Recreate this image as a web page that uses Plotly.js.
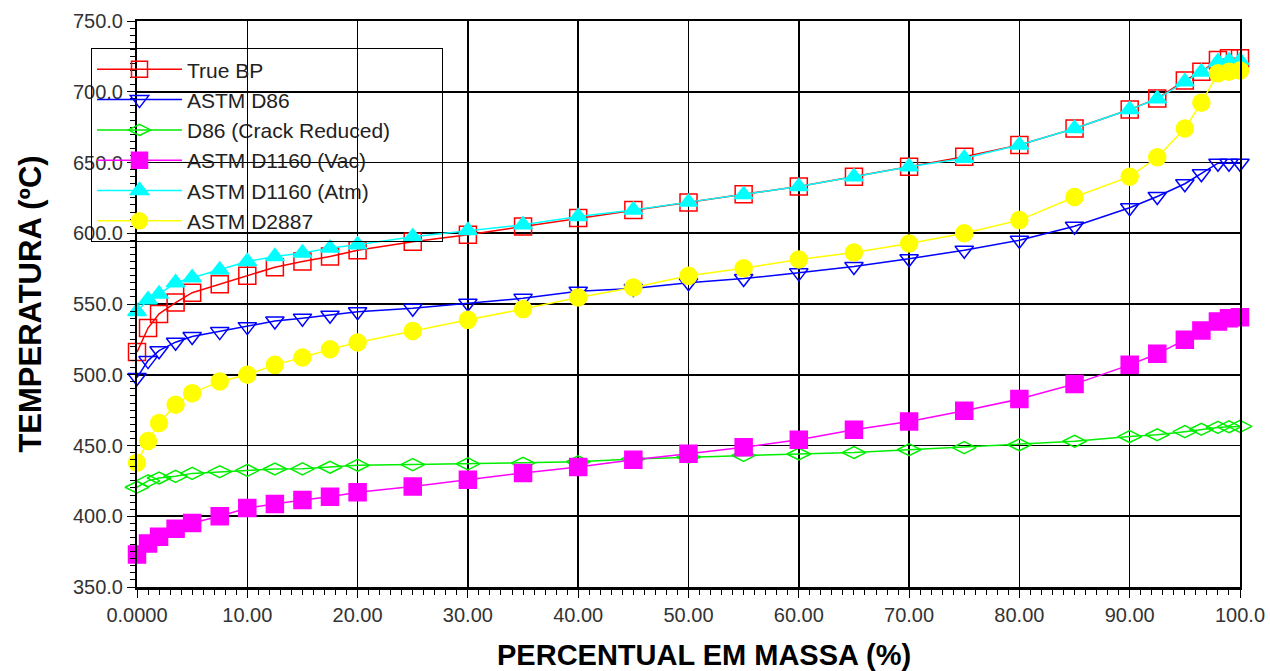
<!DOCTYPE html>
<html>
<head>
<meta charset="utf-8">
<script src="https://cdn.plot.ly/plotly-3.0.1.min.js"></script>
<style>html,body{margin:0;padding:0;background:#fff;}#chart{width:1270px;height:671px;}</style>
</head>
<body>
<div id="chart"></div>
<script>
// Percentual em massa (%)
const massPct = [0, 1, 2, 3.5, 5, 7.5, 10, 12.5, 15, 17.5, 20, 25, 30, 35, 40, 45, 50, 55, 60, 65, 70, 75, 80, 85, 90, 92.5, 95, 96.5, 98, 99, 100];

const trueBP = [516, 533, 543, 551, 558, 564, 570, 576, 580, 583.5, 588, 594, 599, 604.7, 610.7, 616.5, 621.7, 627.6, 633, 640, 647, 654, 662.4, 674, 687.4, 695.2, 708, 714.2, 722.5, 723.7, 723.7];
const astmD86 = [498, 510, 517, 523, 527, 530.5, 534, 538, 540, 542, 544.5, 547, 550.5, 554, 559, 561, 565, 568, 572, 576.5, 582, 588, 595, 605, 618, 626, 635, 642, 649.5, 649.5, 649.5];
const d86CrackReduced = [420.5, 425, 427, 428.2, 430.3, 431.5, 432.4, 433.4, 433.5, 434.6, 436, 436.5, 437, 437.5, 438.5, 440.5, 441.8, 443, 444, 445, 447, 448.5, 450.5, 453, 456.3, 457.6, 459.8, 461.5, 462.8, 463.2, 463.5];
const astmD1160Vac = [373, 380.8, 385.5, 391.2, 395.2, 400, 405.8, 408.7, 411.5, 413.8, 417, 421, 425.8, 430.6, 434.8, 440, 444.2, 448.7, 454.1, 461.2, 467, 474.6, 482.8, 493.4, 507, 514.8, 524.7, 531.3, 537.6, 540, 540.7];
const astmD1160Atm = [544.7, 553, 557, 565, 568.5, 574, 580, 583.5, 586, 589.5, 591.8, 597.5, 602, 606, 611.8, 616.5, 622, 627.3, 633, 640, 647, 653, 662.4, 674, 687.4, 695, 707, 714, 721.3, 722, 722];
const astmD2887 = [437.8, 453.2, 465.9, 478.8, 487, 495.3, 500, 507, 512.2, 518, 522.8, 531, 538.8, 546.4, 554.6, 561.7, 569.9, 575.3, 581.5, 586.4, 592.7, 600, 609.3, 625.6, 640, 653.7, 674, 692.3, 713, 714.2, 715];

const seriesNames = ["True BP", "ASTM D86", "D86 (Crack Reduced)", "ASTM D1160 (Vac)", "ASTM D1160 (Atm)", "ASTM D2887"];
const xTickVals = [0, 10, 20, 30, 40, 50, 60, 70, 80, 90, 100];
const xTickText = ["0.0000", "10.00", "20.00", "30.00", "40.00", "50.00", "60.00", "70.00", "80.00", "90.00", "100.0"];
const xTitle = "PERCENTUAL EM MASSA (%)";
const yTitle = "TEMPERATURA (ºC)";

const seriesData = [trueBP, astmD86, d86CrackReduced, astmD1160Vac, astmD1160Atm, astmD2887];
const styles = [
  {color: "#ff0000", symbol: "square-open", size: 17},
  {color: "#0000ff", symbol: "triangle-down-open", size: 16},
  {color: "#00ee00", symbol: "diamond-wide-open", size: 17},
  {color: "#ff00ff", symbol: "square", size: 17},
  {color: "#00ffff", symbol: "triangle-up", size: 16},
  {color: "#ffff00", symbol: "circle", size: 17}
];

// widen the legend box to the reference width with trailing no-break spaces on the longest entry
const legendPad = "\u00a0".repeat(8);

const traces = seriesData.map((ys, i) => ({
  x: massPct,
  y: ys,
  name: seriesNames[i] + (i === 2 ? legendPad : ""),
  type: "scatter",
  mode: "lines+markers",
  cliponaxis: false,
  legendgroup: "g" + i,
  line: {color: styles[i].color, width: 1.5},
  marker: {symbol: styles[i].symbol, size: styles[i].size, color: styles[i].color,
           line: {color: styles[i].color, width: 1.5}}
}));

const layout = {
  width: 1270, height: 671,
  margin: {l: 137, r: 30, t: 21, b: 84},
  paper_bgcolor: "#ffffff",
  plot_bgcolor: "#ffffff",
  font: {family: "Liberation Sans, Arial, sans-serif", color: "#222222", size: 20},
  showlegend: true,
  legend: {
    x: -0.0417, y: 0.952, xanchor: "left", yanchor: "top",
    bgcolor: "rgba(0,0,0,0)", bordercolor: "#000000", borderwidth: 1,
    font: {size: 21, color: "#222222"},
    tracegroupgap: 0, itemwidth: 85
  },
  xaxis: {
    range: [0, 100],
    tickvals: xTickVals, ticktext: xTickText,
    ticks: "outside", ticklen: 8, tickwidth: 1, tickcolor: "#000000",
    minor: {dtick: 1, ticks: "outside", ticklen: 5, tickcolor: "#000000", showgrid: false},
    showgrid: true, gridcolor: "#000000", gridwidth: 1.6,
    showline: true, linecolor: "#000000", linewidth: 2.5, mirror: true,
    zeroline: false,
    tickfont: {size: 20, color: "#333333"}
  },
  yaxis: {
    range: [350, 750],
    dtick: 50, tick0: 350, tickformat: ".1f",
    ticks: "outside", ticklen: 8, tickwidth: 1, tickcolor: "#000000",
    minor: {dtick: 5, ticks: "outside", ticklen: 5, tickcolor: "#000000", showgrid: false},
    showgrid: true, gridcolor: "#000000", gridwidth: 1.6,
    showline: true, linecolor: "#000000", linewidth: 2, mirror: true,
    zeroline: false,
    tickfont: {size: 20, color: "#333333"},
    title: {text: yTitle, font: {size: 31, color: "#000000", family: "Liberation Sans, Arial, sans-serif", weight: "bold"}, standoff: 22}
  },
  annotations: [{
    text: xTitle, xref: "paper", yref: "paper", x: 0.514, y: -0.12,
    xanchor: "center", yanchor: "middle", showarrow: false,
    font: {size: 29, color: "#000000", family: "Liberation Sans, Arial, sans-serif", weight: "bold"}
  }]
};

Plotly.newPlot("chart", traces, layout, {displayModeBar: false, staticPlot: true});
</script>
</body>
</html>
